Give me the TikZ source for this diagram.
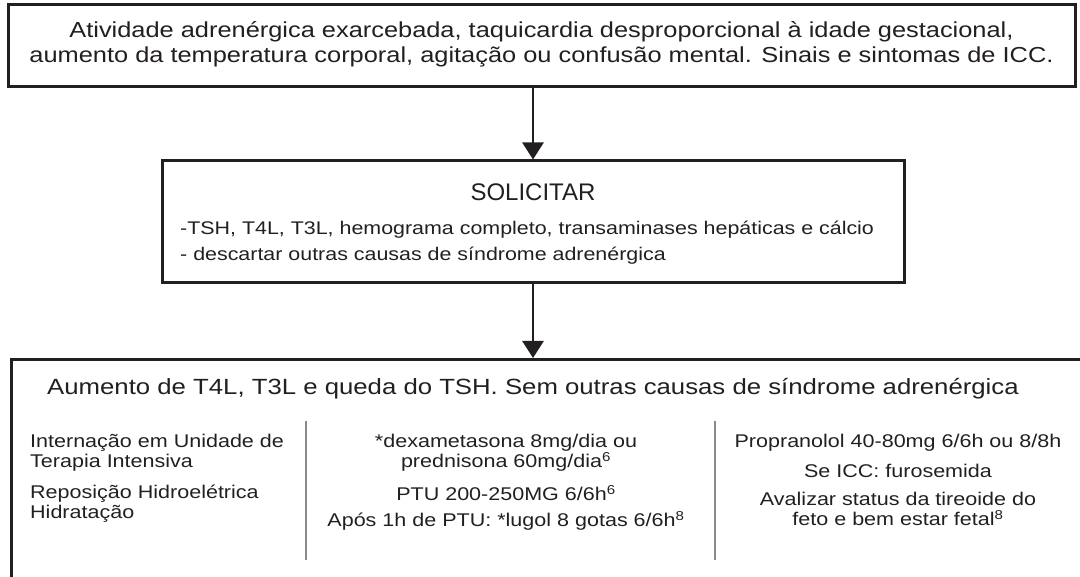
\documentclass[tikz,border=0pt]{standalone}
\usepackage{fontspec}
\setmainfont[FakeStretch=1.17]{Liberation Sans}
\newfontfamily\plainfont{Liberation Sans}
\usetikzlibrary{positioning, arrows.meta}
\usetikzlibrary{calc}
\definecolor{inkgray}{HTML}{231F20}
\definecolor{rulegray}{HTML}{8A8A8A}
\tikzset{
x=1pt, y=-1pt, % one unit per pixel, y going down
box/.style={draw=inkgray, line width=3pt, inner sep=0pt}, % frame of each step
flow/.style={draw=inkgray, line width=2.6pt, -{Triangle[length=17pt, width=21pt]}}, % arrows between the steps
divider/.style={draw=rulegray, line width=1.3pt}, % thin rules between the columns
toptext/.style={font=\fontsize{21.7}{25}\selectfont, align=center, text=inkgray, inner sep=0pt},
headtext/.style={font=\plainfont\fontsize{24}{28}\selectfont, text=inkgray, inner sep=0pt},
listtext/.style={font=\fontsize{18.3}{26}\selectfont, align=left, text=inkgray, inner sep=0pt},
coltext/.style={font=\fontsize{18.4}{20}\selectfont, align=center, text=inkgray, inner sep=0pt},
}

\begin{document}
\begin{tikzpicture}
      \useasboundingbox (0,0) rectangle (1080,577);
      \clip (0,0) rectangle (1080,577);
      % signs and symptoms
      \node[box, minimum width=1067pt, minimum height=82pt] (signs) at (541.5,46) {};
      \node[toptext] (signstext) at (541.5,44) {Atividade adrenérgica exarcebada, taquicardia desproporcional à idade gestacional,\\aumento da temperatura corporal, agitação ou confusão mental. Sinais e sintomas de ICC.};
      % what to ask for
      \node[box, minimum width=742pt, minimum height=122pt] (ask) at (533,222) {};
      \node[headtext] (asktitle) at (533,192) {SOLICITAR};
      \node[listtext, anchor=west] (asklist) at (180,243) {-TSH, T4L, T3L, hemograma completo, transaminases hepáticas e cálcio\\- descartar outras causas de síndrome adrenérgica};
      % findings and treatment (box runs off the page)
      \node[box, minimum width=1100pt, minimum height=260pt, anchor=north west] (found) at (10,358) {};
      \node[toptext, font=\fontsize{22}{25}\selectfont] (foundtitle) at (533,389) {Aumento de T4L, T3L e queda do TSH. Sem outras causas de síndrome adrenérgica};
      \draw[divider] (306,421) -- (306,560);
      \draw[divider] (715,421) -- (715,560);
      % left column
      \node[coltext, align=left, anchor=west] (icu) at (30,453) {Internação em Unidade de\\Terapia Intensiva};
      \node[coltext, align=left, anchor=west] (fluids) at (30,504) {Reposição Hidroelétrica\\Hidratação};
      % middle column
      \node[coltext] (steroid) at (506,453) {*dexametasona 8mg/dia ou\\prednisona 60mg/dia\textsuperscript{6}};
      \node[coltext] (ptu) at (506,493) {PTU 200-250MG 6/6h\textsuperscript{6}};
      \node[coltext] (lugol) at (506,521) {Após 1h de PTU: *lugol 8 gotas 6/6h\textsuperscript{8}};
      % right column
      \node[coltext] (beta) at (898,443) {Propranolol 40-80mg 6/6h ou 8/8h};
      \node[coltext] (diuretic) at (898,471) {Se ICC: furosemida};
      \node[coltext] (fetal) at (898,509) {Avalizar status da tireoide do\\feto e bem estar fetal\textsuperscript{8}};
      % arrows
      \draw[flow] (signs.south -| ask.north) -- (ask.north);
      \draw[flow] (ask.south) -- (ask.south |- found.north);
\end{tikzpicture}
\end{document}
